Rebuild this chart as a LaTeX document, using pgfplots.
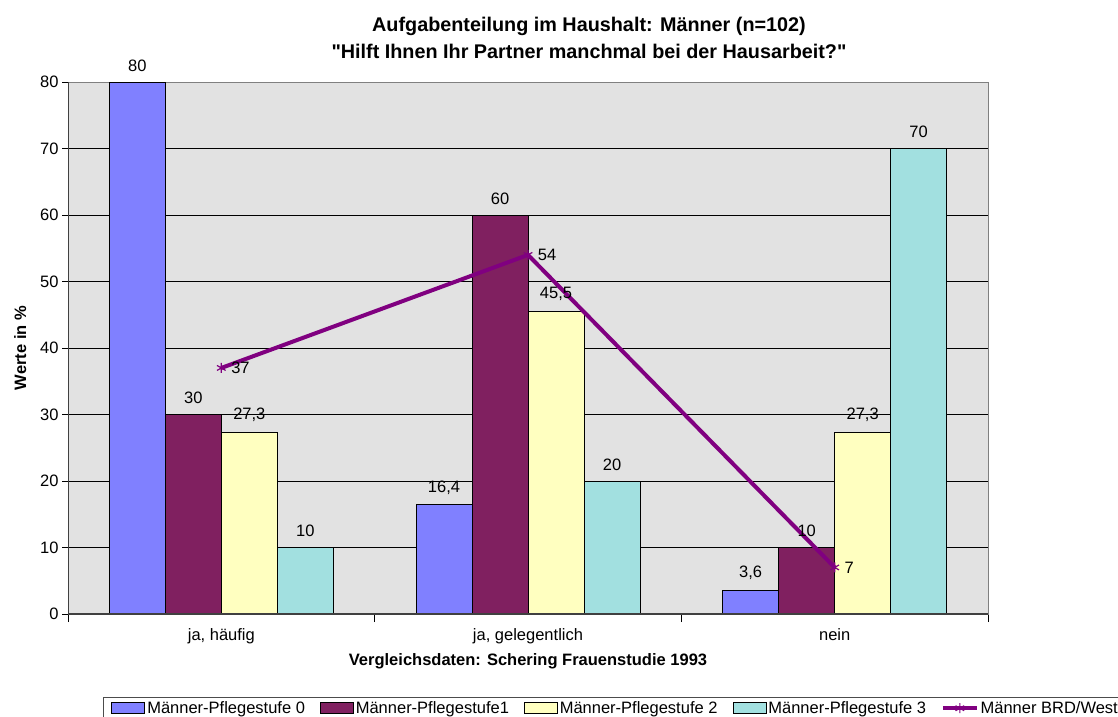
\documentclass[border=0pt]{standalone}
\usepackage{pgfplots}
\pgfplotsset{compat=1.18}
\usepackage{fontspec}
\setmainfont{Liberation Sans}[Ligatures=TeXOff]
\definecolor{cA}{RGB}{128,128,255}
\definecolor{cB}{RGB}{128,32,96}
\definecolor{cC}{RGB}{255,255,192}
\definecolor{cD}{RGB}{162,224,224}
\definecolor{cL}{RGB}{128,0,128}
\definecolor{bgG}{RGB}{226,226,226}
\newcommand{\fs}{\fontsize{16.5}{18}\selectfont}
\pgfplotsset{
  barleg/.style={legend image code/.code={\draw[##1,line width=0.8pt] (0pt,-5.5pt) rectangle (33pt,5.5pt);}},
  lineleg/.style={legend image code/.code={\draw[##1, line width=3.5pt, mark repeat=2, mark phase=2] plot coordinates {(0pt,0pt) (17pt,0pt) (34pt,0pt)};}},
  barlab/.style={nodes near coords, every node near coord/.append style={text=black, font=\fs, inner sep=4pt, yshift=6pt}},
}
\begin{document}
\begin{tikzpicture}[x=1pt,y=1pt]
\path[use as bounding box] (0,0) rectangle (1118,716);
\node[font=\bfseries\fontsize{19.8}{27}\selectfont, align=center] at (589,678) {Aufgabenteilung im Haushalt: Männer (n=102)\\"Hilft Ihnen Ihr Partner manchmal bei der Hausarbeit?"};
\begin{axis}[
  at={(68pt,102pt)}, anchor=south west,
  scale only axis, width=920pt, height=532pt,
  xmin=-0.5, xmax=2.5, ymin=0, ymax=80,
  ytick={0,10,...,80},
  xtick={0,1,2},
  xticklabels={{ja, häufig},{ja, gelegentlich},{nein}},
  minor xtick={-0.5,0.5,1.5,2.5},
  major x tick style={draw=none},
  tick align=outside, tick pos=left,
  major tick length=6pt, minor tick length=8pt,
  tick style={black, line width=0.8pt},
  ymajorgrids, grid style={black, line width=0.8pt},
  axis line style={draw=gray, line width=1pt},
  axis background/.style={fill=bgG},
  ticklabel style={font=\fs},
  xticklabel style={yshift=-5pt},
  bar width=0.1826,
  /pgf/number format/.cd, use comma, assume math mode=true, /pgfplots/.cd,
  every axis x label/.style={at={(axis description cs:0.5,-0.088)}, anchor=center, font=\bfseries\fs},
  every axis y label/.style={at={(axis description cs:-0.052,0.5)}, rotate=90, anchor=center, font=\bfseries\fs},
  xlabel={Vergleichsdaten: Schering Frauenstudie 1993},
  ylabel={Werte in \%},
  legend columns=5,
  legend style={at={(0.038,-0.156)}, anchor=north west, draw=black!70, line width=1pt, fill=white,
    font=\fs, inner xsep=8pt, inner ysep=2pt,
    /tikz/every even column/.append style={column sep=13pt}},
  legend cell align=left,
]
\addplot[ybar, bar shift=0pt, fill=cA, draw=black, line width=1pt, barleg, barlab] coordinates {(-0.2739,80) (0.7261,16.4) (1.7261,3.6)};
\addlegendentry{Männer-Pflegestufe 0}
\addplot[ybar, bar shift=0pt, fill=cB, draw=black, line width=1pt, barleg, barlab] coordinates {(-0.0913,30) (0.9087,60) (1.9087,10)};
\addlegendentry{Männer-Pflegestufe1}
\addplot[ybar, bar shift=0pt, fill=cC, draw=black, line width=1pt, barleg, barlab] coordinates {(0.0913,27.3) (1.0913,45.5) (2.0913,27.3)};
\addlegendentry{Männer-Pflegestufe 2}
\addplot[ybar, bar shift=0pt, fill=cD, draw=black, line width=1pt, barleg, barlab] coordinates {(0.2739,10) (1.2739,20) (2.2739,70)};
\addlegendentry{Männer-Pflegestufe 3}
\addplot[color=cL, line width=4pt, mark=asterisk, mark size=5pt, mark options={line width=1.2pt}, lineleg,
  nodes near coords, every node near coord/.append style={anchor=west, xshift=6pt, text=black, font=\fs}]
  coordinates {(0,37) (1,54) (2,7)};
\addlegendentry{Männer BRD/West}
\draw[line width=2pt, black!75] (rel axis cs:0,1) -- (rel axis cs:0,0) -- (rel axis cs:1,0);
\end{axis}
\end{tikzpicture}
\end{document}
